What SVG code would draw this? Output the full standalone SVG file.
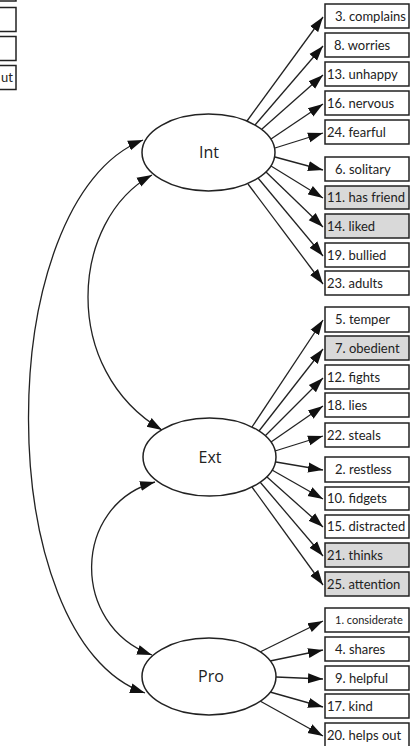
<svg xmlns="http://www.w3.org/2000/svg" width="411" height="746" viewBox="0 0 411 746">
<style>
.bx{fill:#fff;stroke:#222;stroke-width:1.5}
.gy{fill:#d9d9d9;stroke:#222;stroke-width:1.5}
.t{font-family:Lato,"Open Sans",sans-serif;font-size:13px;fill:#222}
.el{fill:#fff;stroke:#222;stroke-width:1.5}
.lt{font-family:"Open Sans",Lato,sans-serif;font-size:16px;fill:#222;text-anchor:middle}
.ar{fill:none;stroke:#222;stroke-width:1.3;marker-end:url(#ah)}
.cv{fill:none;stroke:#222;stroke-width:1.3;marker-start:url(#ah);marker-end:url(#ah)}
</style>
<defs>
<marker id="ah" markerUnits="userSpaceOnUse" markerWidth="16" markerHeight="12" refX="15" refY="5" orient="auto-start-reverse" viewBox="0 0 16 10">
<path d="M0,0 L15,5 L0,10 z" fill="#111"/>
</marker>
</defs>
<g id="corner">
<rect class="bx" x="-70" y="-23" width="86" height="24"/>
<rect class="bx" x="-70" y="7.5" width="86" height="24"/>
<rect class="bx" x="-70" y="36.5" width="86" height="24"/>
<rect class="bx" x="-70" y="65.5" width="86" height="24"/>
<text class="t" x="13" y="82" text-anchor="end">ut</text>
</g>
<g id="connectors">
<path class="ar" d="M247,121 L323,17"/>
<path class="ar" d="M255,125 L323,46"/>
<path class="ar" d="M262,129 L323,75"/>
<path class="ar" d="M271,139 L323,104"/>
<path class="ar" d="M275,148 L323,133"/>
<path class="ar" d="M275,157 L323,170"/>
<path class="ar" d="M271,166 L323,198"/>
<path class="ar" d="M266,172 L323,227"/>
<path class="ar" d="M258,178 L323,256"/>
<path class="ar" d="M248,184 L323,284"/>
<path class="ar" d="M252,427 L323,320"/>
<path class="ar" d="M259,431 L323,349"/>
<path class="ar" d="M265,436 L323,378"/>
<path class="ar" d="M271,442 L323,406"/>
<path class="ar" d="M275,451 L323,436"/>
<path class="ar" d="M276,462 L323,470"/>
<path class="ar" d="M272,470 L323,499"/>
<path class="ar" d="M267,477 L323,527"/>
<path class="ar" d="M260,482 L323,556"/>
<path class="ar" d="M252,487 L323,585"/>
<path class="ar" d="M260,652 L323,621"/>
<path class="ar" d="M270,661 L323,650"/>
<path class="ar" d="M276,677 L323,679"/>
<path class="ar" d="M270,692 L323,707"/>
<path class="ar" d="M260,701 L323,736"/>
<path class="cv" d="M152,175 C70,220 60,370 162,430"/>
<path class="cv" d="M155,482 C72,505 70,625 152,655"/>
<path class="cv" d="M143,140 C-10,200 -10,640 145,693"/>
</g>
<g id="Int"><ellipse class="el" cx="208.5" cy="152.5" rx="66.5" ry="38.5"/><text class="lt" x="209" y="158">Int</text></g>
<g id="Ext"><ellipse class="el" cx="209.5" cy="457" rx="66.5" ry="39"/><text class="lt" x="210" y="463">Ext</text></g>
<g id="Pro"><ellipse class="el" cx="209" cy="676.5" rx="67" ry="38.5"/><text class="lt" x="211" y="682">Pro</text></g>
<g id="n3"><rect class="bx" x="325" y="4" width="84" height="24"/><text class="t" x="335" y="21">3. complains</text></g>
<g id="n8"><rect class="bx" x="325" y="33" width="84" height="24"/><text class="t" x="334" y="50">8. worries</text></g>
<g id="n13"><rect class="bx" x="325" y="62" width="84" height="24"/><text class="t" x="327" y="79">13. unhappy</text></g>
<g id="n16"><rect class="bx" x="325" y="91" width="84" height="24"/><text class="t" x="327" y="108">16. nervous</text></g>
<g id="n24"><rect class="bx" x="325" y="120" width="84" height="24"/><text class="t" x="327" y="137">24. fearful</text></g>
<g id="n6"><rect class="bx" x="325" y="157" width="84" height="24"/><text class="t" x="335" y="174">6. solitary</text></g>
<g id="n11"><rect class="gy" x="325" y="186" width="84" height="23"/><text class="t" x="327" y="202">11. has friend</text></g>
<g id="n14"><rect class="gy" x="325" y="214" width="84" height="24"/><text class="t" x="327" y="231">14. liked</text></g>
<g id="n19"><rect class="bx" x="325" y="243" width="84" height="24"/><text class="t" x="327" y="260">19. bullied</text></g>
<g id="n23"><rect class="bx" x="325" y="271" width="84" height="24"/><text class="t" x="327" y="288">23. adults</text></g>
<g id="n5"><rect class="bx" x="325" y="307" width="84" height="25"/><text class="t" x="335" y="324">5. temper</text></g>
<g id="n7"><rect class="gy" x="325" y="336" width="84" height="24"/><text class="t" x="335" y="353">7. obedient</text></g>
<g id="n12"><rect class="bx" x="325" y="365" width="84" height="24"/><text class="t" x="327" y="382">12. fights</text></g>
<g id="n18"><rect class="bx" x="325" y="393" width="84" height="24"/><text class="t" x="327" y="410">18. lies</text></g>
<g id="n22"><rect class="bx" x="325" y="423" width="84" height="24"/><text class="t" x="327" y="440">22. steals</text></g>
<g id="n2"><rect class="bx" x="325" y="457" width="84" height="25"/><text class="t" x="335" y="474">2. restless</text></g>
<g id="n10"><rect class="bx" x="325" y="487" width="84" height="23"/><text class="t" x="327" y="503">10. fidgets</text></g>
<g id="n15"><rect class="bx" x="325" y="515" width="84" height="23"/><text class="t" x="327" y="531">15. distracted</text></g>
<g id="n21"><rect class="gy" x="325" y="543" width="84" height="24"/><text class="t" x="327" y="560">21. thinks</text></g>
<g id="n25"><rect class="gy" x="325" y="572" width="84" height="24"/><text class="t" x="327" y="589">25. attention</text></g>
<g id="n1"><rect class="bx" x="325" y="608" width="84" height="24"/><text class="t" x="335" y="624" style="font-size:11px">1. considerate</text></g>
<g id="n4"><rect class="bx" x="325" y="637" width="84" height="24"/><text class="t" x="335" y="654">4. shares</text></g>
<g id="n9"><rect class="bx" x="325" y="666" width="84" height="24"/><text class="t" x="335" y="683">9. helpful</text></g>
<g id="n17"><rect class="bx" x="325" y="694" width="84" height="24"/><text class="t" x="327" y="711">17. kind</text></g>
<g id="n20"><rect class="bx" x="325" y="723" width="84" height="24"/><text class="t" x="327" y="740">20. helps out</text></g>
</svg>
